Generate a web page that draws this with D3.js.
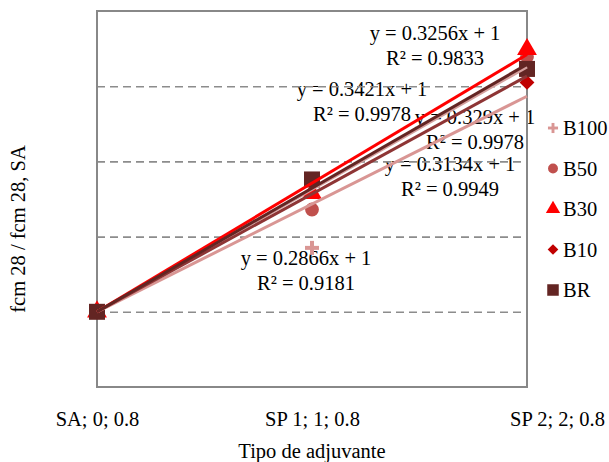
<!DOCTYPE html>
<html>
<head>
<meta charset="utf-8">
<script src="https://cdn.jsdelivr.net/npm/d3@7"></script>
<style>
  html, body { margin: 0; padding: 0; background: #fff; }
  svg text { font-family: "Liberation Serif", "DejaVu Serif", "Times New Roman", serif; }
</style>
</head>
<body>
<svg id="chart" width="609" height="462"></svg>
<script>
// ---- data ----
const categories = ["SA; 0; 0.8", "SP 1; 1; 0.8", "SP 2; 2; 0.8"];
const xValues = [0, 1, 2];
const seriesNames = ["B100", "B50", "B30", "B10", "BR"];
const B100 = [1, 1.17, 1.63];
const B50 = [1, 1.272, 1.678];
const B30 = [1, 1.315, 1.698];
const B10 = [1, 1.347, 1.61];
const BR = [1, 1.352, 1.646];
const slopes = [0.2866, 0.3256, 0.3421, 0.3134, 0.329];
const r2 = [0.9181, 0.9833, 0.9978, 0.9949, 0.9978];
const intercept = 1;
const yTicks = [0.8, 1.0, 1.2, 1.4, 1.6, 1.8];
const xTitle = "Tipo de adjuvante";
const yTitle = "fcm 28 / fcm 28, SA";

const seriesValues = [B100, B50, B30, B10, BR];
const markerColors = ["#D99694", "#C0504D", "#FF0000", "#C00000", "#632523"];
const lineColors = ["#D99694", "#D4A09E", "#FF0000", "#8E3535", "#632523"];
const shapes = [null, d3.symbolCircle, d3.symbolTriangle, d3.symbolSquare, d3.symbolSquare];
const shapeSizes = [0, 150, 170, 110, 256];
const rotations = [0, 0, 0, 45, 0];
// label positions (center x, baseline y of first line) in pixels
const labelPos = [[306, 265], [435, 40], [362, 96], [450, 171], [475, 124]];

// ---- layout ----
const FONT = "'Liberation Serif', 'DejaVu Serif', 'Times New Roman', serif";
const svg = d3.select("#chart");
const L = 97, R = 527, T = 11, B = 387;
const x = d3.scaleLinear().domain([0, 2]).range([L, R]);
const y = d3.scaleLinear().domain([0.8, 1.8]).range([B, T]);
const FS = 20.5;

// trendline labels (under grid & lines)
const labels = svg.append("g");
seriesValues.forEach((vals, i) => {
  const [cx, by] = labelPos[i];
  const t = labels.append("text").attr("text-anchor", "middle")
    .attr("font-size", FS).attr("font-family", FONT).attr("fill", "#000");
  t.append("tspan").attr("x", cx).attr("y", by)
    .text("y = " + slopes[i] + "x + " + intercept);
  t.append("tspan").attr("x", cx).attr("y", by + 25)
    .text("R\u00B2 = " + r2[i].toFixed(4));
});

// gridlines
const grid = svg.append("g").attr("transform", `translate(${L},0)`)
  .call(d3.axisLeft(y).tickValues(yTicks.slice(1, -1)).tickSize(-(R - L)).tickFormat(""));
grid.select(".domain").remove();
grid.selectAll("line").attr("stroke", "#8c8c8c").attr("stroke-width", 1.6)
  .attr("stroke-dasharray", "8,5");

// plot border
svg.append("rect").attr("x", L).attr("y", T).attr("width", R - L).attr("height", B - T)
  .attr("fill", "none").attr("stroke", "#888").attr("stroke-width", 2);

// x axis labels
const xa = svg.append("g").attr("transform", `translate(0,${B})`)
  .call(d3.axisBottom(x).tickValues(xValues).tickSize(0).tickPadding(24)
    .tickFormat((d, i) => categories[i]));
xa.attr("font-family", FONT).attr("font-size", FS);
xa.select(".domain").remove();
xa.selectAll("text").attr("font-size", FS).attr("font-family", FONT).attr("fill", "#000")
  .attr("dx", (d, i) => i === xValues.length - 1 ? 30 : 0);

// axis titles
svg.append("text").attr("x", 312).attr("y", 458).attr("text-anchor", "middle")
  .attr("font-size", FS).attr("font-family", FONT).text(xTitle);
svg.append("text").attr("transform", `translate(25,229) rotate(-90)`)
  .attr("text-anchor", "middle").attr("font-size", FS).attr("font-family", FONT).text(yTitle);

// markers
function drawMarker(g, i, px, py, scale) {
  if (i === 0) {
    const a = 7 * scale, w = 4 * scale;
    g.append("rect").attr("x", px - a).attr("y", py - w / 2).attr("width", 2 * a).attr("height", w).attr("fill", markerColors[i]);
    g.append("rect").attr("x", px - w / 2).attr("y", py - a).attr("width", w).attr("height", 2 * a).attr("fill", markerColors[i]);
  } else {
    g.append("path").attr("d", d3.symbol().type(shapes[i]).size(shapeSizes[i] * scale * scale)())
      .attr("transform", `translate(${px},${py}) rotate(${rotations[i]})`).attr("fill", markerColors[i]);
  }
}
const mk = svg.append("g");
seriesValues.forEach((vals, i) => {
  vals.forEach((v, j) => drawMarker(mk, i, x(xValues[j]), y(v), 1));
});

// trendlines
const line = d3.line().x(d => x(d[0])).y(d => y(d[1]));
const tl = svg.append("g");
seriesValues.forEach((vals, i) => {
  const pts = [xValues[0], xValues[xValues.length - 1]].map(xv => [xv, intercept + slopes[i] * xv]);
  tl.append("path").attr("d", line(pts)).attr("fill", "none")
    .attr("stroke", lineColors[i]).attr("stroke-width", 3);
});

// legend
const lg = svg.append("g");
seriesNames.forEach((n, i) => {
  const cy = 128 + i * 40.5;
  drawMarker(lg, i, 553, cy, 0.72);
  lg.append("text").attr("x", 563).attr("y", cy + 7).attr("font-size", FS)
    .attr("font-family", FONT).text(n);
});
</script>
</body>
</html>
